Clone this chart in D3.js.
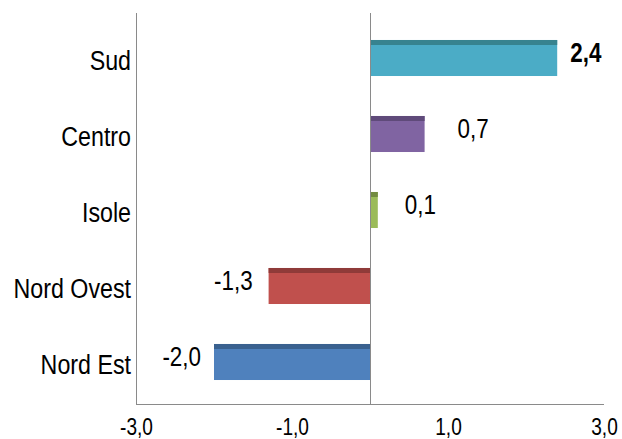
<!DOCTYPE html>
<html>
<head>
<meta charset="utf-8">
<script src="https://cdn.jsdelivr.net/npm/d3@7"></script>
<style>
  html, body { margin: 0; padding: 0; background: #ffffff; }
  svg { display: block; }
  text { font-family: "Liberation Sans", Arial, sans-serif; fill: #000; }
</style>
</head>
<body>
<svg id="chart" width="622" height="439"></svg>
<script>
// Regional values (variazione %)
const categories = ["Sud", "Centro", "Isole", "Nord Ovest", "Nord Est"];
const values = [2.4, 0.7, 0.1, -1.3, -2.0];
const valueLabels = ["2,4", "0,7", "0,1", "-1,3", "-2,0"];
const tickValues = [-3, -1, 1, 3];
const tickLabels = ["-3,0", "-1,0", "1,0", "3,0"];

// Styling per category
const fillColors = {
  "Sud": "#4BACC6", "Centro": "#8064A2", "Isole": "#9BBB59",
  "Nord Ovest": "#C0504D", "Nord Est": "#4F81BD"
};
const stripColors = {
  "Sud": "#37838F", "Centro": "#5F4A7A", "Isole": "#728B40",
  "Nord Ovest": "#8F3B39", "Nord Est": "#3A618F"
};
// Horizontal nudges for the value labels
const labelShift = { "Sud": 13, "Centro": 33, "Isole": 27, "Nord Ovest": 16, "Nord Est": 13 };

// Condensed look: squeeze glyphs horizontally
const narrow = 0.83;

const svg = d3.select("#chart");
const plot = { left: 136, right: 604, top: 13, bottom: 404 };

const x = d3.scaleLinear().domain([-3, 3]).range([plot.left, plot.right]);
const y = d3.scaleBand().domain(categories).range([20, 400]).padding(0);
const barH = y.bandwidth() * 0.474;
const barOff = (y.bandwidth() - barH) / 2;
const stripH = 5;

const data = categories.map((c, i) => ({ cat: c, v: values[i], label: valueLabels[i] }));

// Bars
const bars = svg.append("g");
bars.selectAll("rect.bar").data(data).join("rect")
  .attr("class", "bar")
  .attr("x", d => x(Math.min(0, d.v)))
  .attr("y", d => y(d.cat) + barOff)
  .attr("width", d => Math.abs(x(d.v) - x(0)))
  .attr("height", barH)
  .attr("fill", d => fillColors[d.cat]);
bars.selectAll("rect.strip").data(data).join("rect")
  .attr("class", "strip")
  .attr("x", d => x(Math.min(0, d.v)))
  .attr("y", d => y(d.cat) + barOff)
  .attr("width", d => Math.abs(x(d.v) - x(0)))
  .attr("height", stripH)
  .attr("fill", d => stripColors[d.cat]);

// Axis lines
const axisColor = "#8a8a8a";
svg.append("line")
  .attr("x1", plot.left + 0.5).attr("x2", plot.left + 0.5)
  .attr("y1", plot.top).attr("y2", plot.bottom)
  .attr("stroke", axisColor).attr("stroke-width", 1);
svg.append("line")
  .attr("x1", Math.round(x(0)) + 0.5).attr("x2", Math.round(x(0)) + 0.5)
  .attr("y1", plot.top).attr("y2", plot.bottom)
  .attr("stroke", axisColor).attr("stroke-width", 1);

// Bottom axis with custom tick labels
const xAxis = d3.axisBottom(x)
  .tickValues(tickValues)
  .tickFormat((d, i) => tickLabels[i])
  .tickSize(0)
  .tickPadding(0);
const gx = svg.append("g")
  .attr("transform", `translate(0,${plot.bottom + 0.5})`)
  .call(xAxis);
gx.select(".domain").attr("stroke", axisColor).attr("d", `M${plot.left},0H${plot.right}`);
gx.selectAll(".tick text")
  .attr("y", null).attr("dy", null)
  .attr("transform", `translate(0,${434 - plot.bottom}) scale(${narrow},1)`)
  .style("font-family", '"Liberation Sans", Arial, sans-serif')
  .style("font-size", "23px")
  .attr("fill", "#000");

// Category labels
svg.append("g").selectAll("text").data(data).join("text")
  .attr("transform", d => `translate(131,${y(d.cat) + y.bandwidth() / 2 + 2}) scale(${narrow},1)`)
  .attr("text-anchor", "end")
  .attr("dominant-baseline", "central")
  .style("font-size", "28px")
  .text(d => d.cat);

// Value labels
svg.append("g").selectAll("text").data(data).join("text")
  .attr("transform", d => {
    const tx = d.v >= 0 ? x(d.v) + labelShift[d.cat] : x(d.v) - labelShift[d.cat];
    return `translate(${tx},${y(d.cat) + y.bandwidth() / 2 - 5}) scale(${narrow},1)`;
  })
  .attr("text-anchor", d => d.v >= 0 ? "start" : "end")
  .attr("dominant-baseline", "central")
  .style("font-size", "27px")
  .style("font-weight", d => d.cat === "Sud" ? "bold" : "normal")
  .text(d => d.label);
</script>
</body>
</html>
